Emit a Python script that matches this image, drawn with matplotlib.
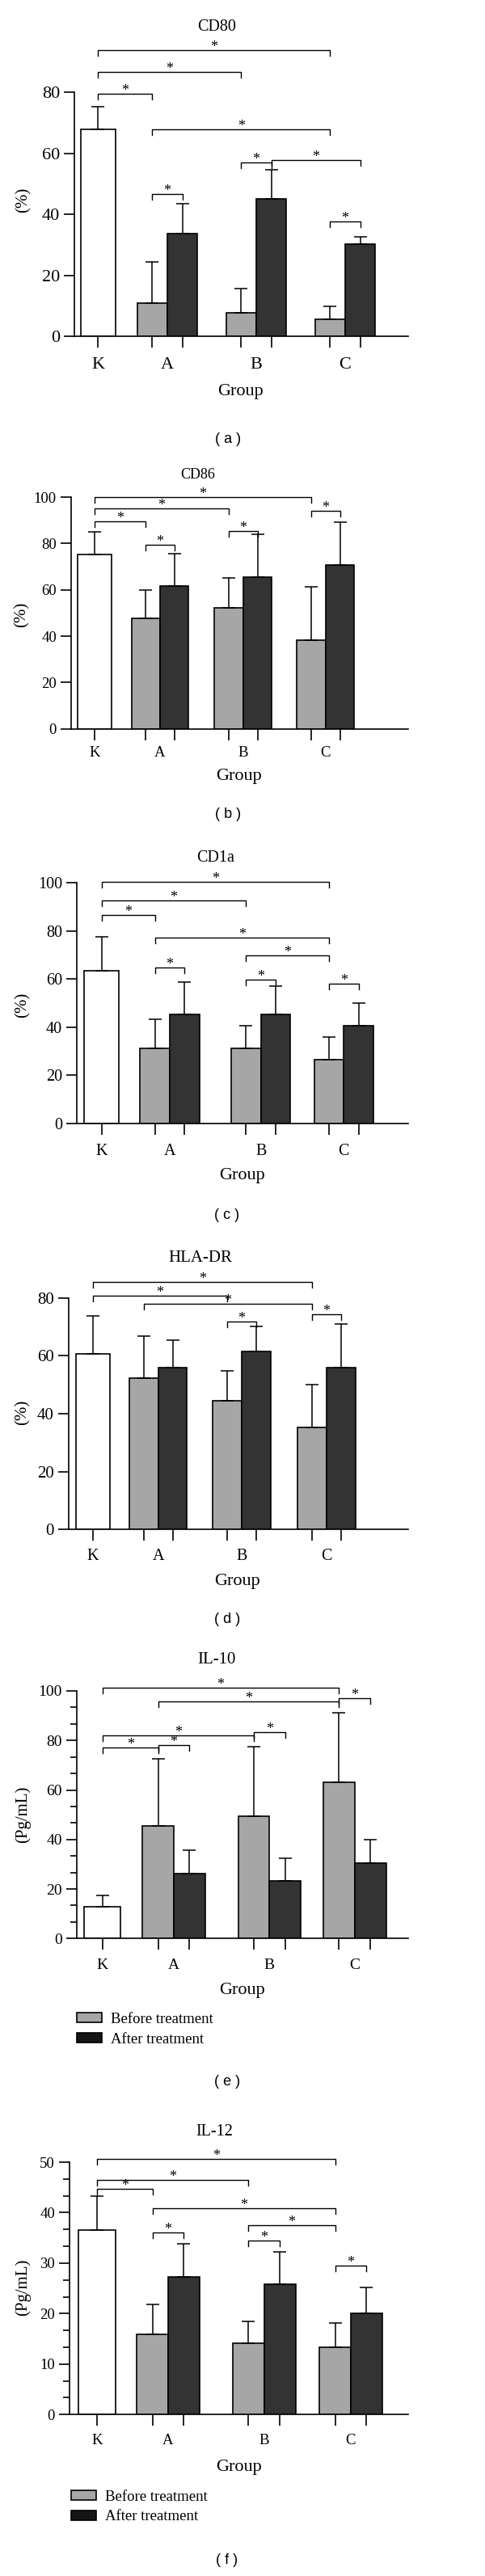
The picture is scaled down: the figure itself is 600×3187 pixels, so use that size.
import numpy as np
import matplotlib.pyplot as plt
from matplotlib.patches import Patch
from matplotlib.ticker import AutoMinorLocator, MultipleLocator

plt.rcParams['font.family'] = ['Liberation Serif', 'DejaVu Serif']

W, H, DPI = 600, 3187, 100

groups = ['K', 'A', 'B', 'C']

# bar order: K, A before, A after, B before, B after, C before, C after
cd80_mean = [67.9, 11.0, 33.7, 7.7, 45.0, 5.7, 30.3]
cd80_sd = [7.3, 13.4, 9.7, 7.9, 9.5, 4.1, 2.4]
cd80_sig = [(0, 5, 94.0), (0, 3, 86.6), (0, 1, 79.6), (1, 5, 67.9),
            (3, 4, 57.1), (4, 6, 57.7), (1, 2, 46.7), (5, 6, 37.7)]

cd86_mean = [75.2, 47.8, 61.5, 52.1, 65.6, 38.4, 70.7]
cd86_sd = [9.7, 12.1, 14.0, 12.9, 18.4, 22.9, 18.5]
cd86_sig = [(0, 5, 100.0), (0, 3, 95.1), (0, 1, 89.5), (1, 2, 79.4),
            (3, 4, 85.3), (5, 6, 94.0)]

cd1a_mean = [63.4, 31.4, 45.4, 31.4, 45.4, 26.5, 40.6]
cd1a_sd = [14.1, 11.8, 13.4, 9.2, 11.7, 9.3, 9.4]
cd1a_sig = [(0, 5, 100.5), (0, 3, 92.6), (0, 1, 86.8), (1, 5, 77.3),
            (3, 5, 69.8), (1, 2, 64.7), (3, 4, 59.9), (5, 6, 58.2)]

hla_mean = [60.6, 52.3, 56.0, 44.4, 61.6, 35.3, 56.0]
hla_sd = [13.3, 14.6, 9.3, 10.4, 8.5, 14.8, 15.1]
hla_sig = [(0, 5, 85.5), (0, 3, 80.7), (1, 5, 77.9), (3, 4, 71.8), (5, 6, 74.4)]

il10_mean = [12.75, 45.4, 26.3, 49.5, 23.3, 63.1, 30.4]
il10_sd = [4.6, 27.3, 9.3, 28.1, 9.2, 28.0, 9.6]
il10_sig = [(0, 5, 101.3), (1, 5, 95.7), (5, 6, 97.0), (0, 3, 82.2),
            (0, 1, 77.1), (1, 2, 78.1), (3, 4, 83.5)]

il12_mean = [36.5, 15.85, 27.3, 14.1, 25.9, 13.4, 20.0]
il12_sd = [6.7, 6.0, 6.5, 4.3, 6.4, 4.7, 5.2]
il12_sig = [(0, 5, 50.6), (0, 3, 46.5), (0, 1, 44.7), (1, 5, 40.8),
            (3, 5, 37.5), (1, 2, 36.1), (3, 4, 34.4), (5, 6, 29.5)]

legend_labels = ['Before treatment', 'After treatment']

bar_colors = ['white', '#a6a6a6', '#333333', '#a6a6a6', '#333333', '#a6a6a6', '#333333']

# pixel layout of each panel (positions measured from the top of the picture)
panels = [
    dict(title='CD80', mean=cd80_mean, sd=cd80_sd, sig=cd80_sig, ylabel='(%)', ymax=80, step=20,
         minor=False, tag='( a )', left=92, y0=416, ytop=114.3, kx=121.5, gx=(207, 317, 427),
         bw=37.3, kw=43.3, fs=16, tfs=14.5, lfs=16, xoff=34,
         title_xy=(268, 33), ylab_xy=(29, 247), group_xy=(297, 485), tag_xy=(282, 543), legend_y=None),
    dict(title='CD86', mean=cd86_mean, sd=cd86_sd, sig=cd86_sig, ylabel='(%)', ymax=100, step=20,
         minor=False, tag='( b )', left=88, y0=901.7, ytop=615, kx=117, gx=(198, 301, 403),
         bw=35.5, kw=42, fs=13.5, tfs=13, lfs=13.5, xoff=28.3,
         title_xy=(245, 587), ylab_xy=(27, 760), group_xy=(296, 960), tag_xy=(282, 1007), legend_y=None),
    dict(title='CD1a', mean=cd1a_mean, sd=cd1a_sd, sig=cd1a_sig, ylabel='(%)', ymax=100, step=20,
         minor=False, tag='( c )', left=95, y0=1390, ytop=1092.3, kx=125.5, gx=(210, 322.7, 425.3),
         bw=36.7, kw=42.3, fs=14.5, tfs=14.5, lfs=14.5, xoff=32,
         title_xy=(267, 1061), ylab_xy=(28, 1243), group_xy=(299, 1455), tag_xy=(281, 1503), legend_y=None),
    dict(title='HLA-DR', mean=hla_mean, sd=hla_sd, sig=hla_sig, ylabel='(%)', ymax=80, step=20,
         minor=False, tag='( d )', left=85, y0=1892.3, ytop=1605.7, kx=115, gx=(195.7, 299, 404),
         bw=35.7, kw=41.3, fs=15, tfs=15, lfs=14.5, xoff=31,
         title_xy=(248, 1557), ylab_xy=(28, 1747), group_xy=(294, 1956), tag_xy=(281, 2003), legend_y=None),
    dict(title='IL-10', mean=il10_mean, sd=il10_sd, sig=il10_sig, ylabel='(Pg/mL)', ymax=100, step=20,
         minor=True, tag='( e )', left=95, y0=2398.3, ytop=2092, kx=126.8, gx=(215, 333.3, 438.7),
         bw=38.8, kw=45, fs=14, tfs=15, lfs=14, xoff=32,
         title_xy=(268, 2053), ylab_xy=(28, 2245), group_xy=(299, 2462), tag_xy=(281, 2576),
         legend_x=95, legend_y=2490),
    dict(title='IL-12', mean=il12_mean, sd=il12_sd, sig=il12_sig, ylabel='(Pg/mL)', ymax=50, step=10,
         minor=True, tag='( f )', left=86, y0=2987.3, ytop=2675, kx=119.8, gx=(208, 326.7, 434),
         bw=38.9, kw=45.7, fs=13.5, tfs=14.5, lfs=13.5, xoff=30.7,
         title_xy=(265, 2638), ylab_xy=(28, 2830), group_xy=(296, 3052), tag_xy=(281, 3168),
         legend_x=88, legend_y=3081),
]

RIGHT = 505
LW = 1.2


def fx(px):
    return px / W


def fy(py):
    return 1 - py / H


fig = plt.figure(figsize=(W / DPI, H / DPI), dpi=DPI)

for p in panels:
    ax = fig.add_axes([fx(p['left']), fy(p['y0']), (RIGHT - p['left']) / W, (p['y0'] - p['ytop']) / H])
    ax.set_xlim(p['left'], RIGHT)
    ax.set_ylim(0, p['ymax'])
    unit = (p['y0'] - p['ytop']) / p['ymax']  # pixels per data unit

    xs = [p['kx']]
    for g in p['gx']:
        xs += [g - p['bw'] / 2, g + p['bw'] / 2]
    widths = [p['kw']] + [p['bw']] * 6

    ax.bar(xs, p['mean'], width=widths, color=bar_colors, edgecolor='black',
           linewidth=LW, zorder=2)
    ax.errorbar(xs, p['mean'], yerr=[np.zeros(7), p['sd']], fmt='none', ecolor='black',
                elinewidth=1.1, capsize=5.5, capthick=1.1, zorder=3, clip_on=False)

    # significance brackets
    drop = 7 / unit
    for i, j, y in p['sig']:
        x1, x2 = xs[i], xs[j]
        ax.plot([x1, x1, x2, x2], [y - drop, y, y, y - drop], color='black', lw=1.0,
                clip_on=False, zorder=4)
        ax.text((x1 + x2) / 2, y - 1 / unit, '*', ha='center', va='baseline',
                fontsize=13, clip_on=False)

    for s in ['top', 'right']:
        ax.spines[s].set_visible(False)
    ax.spines['left'].set_bounds(0, p['ymax'])
    ax.spines['left'].set_linewidth(LW)
    ax.spines['bottom'].set_linewidth(LW)

    ax.yaxis.set_major_locator(MultipleLocator(p['step']))
    if p['minor']:
        ax.yaxis.set_minor_locator(AutoMinorLocator(3))
        ax.tick_params(axis='y', which='minor', length=5.5, width=LW)
    ax.tick_params(axis='y', which='major', length=9.5, width=LW, pad=3.5, labelsize=p['fs'])

    ax.xaxis.remove_overlapping_locs = False
    ax.set_xticks(xs)
    ax.set_xticklabels([])
    ax.tick_params(axis='x', which='major', length=10, width=LW)
    ax.set_xticks([p['kx']] + list(p['gx']), groups, minor=True)
    pad = (p['xoff'] - 0.35 * p['lfs'] * DPI / 72) * 0.72
    ax.tick_params(axis='x', which='minor', length=0, pad=pad, labelsize=p['lfs'])

    fig.text(fx(p['title_xy'][0]), fy(p['title_xy'][1]), p['title'], ha='center', va='center',
             fontsize=p['tfs'])
    fig.text(fx(p['ylab_xy'][0]), fy(p['ylab_xy'][1]), p['ylabel'], ha='center', va='center',
             rotation=90, fontsize=15)
    fig.text(fx(p['group_xy'][0]), fy(p['group_xy'][1]), 'Group', ha='center', va='center',
             fontsize=16)
    fig.text(fx(p['tag_xy'][0]), fy(p['tag_xy'][1]), p['tag'], ha='center', va='center',
             fontsize=13, family='Liberation Sans')

    if p['legend_y'] is not None:
        handles = [Patch(facecolor='#a6a6a6', edgecolor='black', linewidth=LW, label=legend_labels[0]),
                   Patch(facecolor='#151515', edgecolor='black', linewidth=LW, label=legend_labels[1])]
        fig.legend(handles=handles, loc='upper left',
                   bbox_to_anchor=(fx(p['legend_x']), fy(p['legend_y'])),
                   frameon=False, fontsize=13.5, handlelength=1.65, handleheight=0.6,
                   handletextpad=0.6, labelspacing=0.4, borderpad=0, borderaxespad=0)

fig.savefig('out.png', dpi=DPI, facecolor='white')
